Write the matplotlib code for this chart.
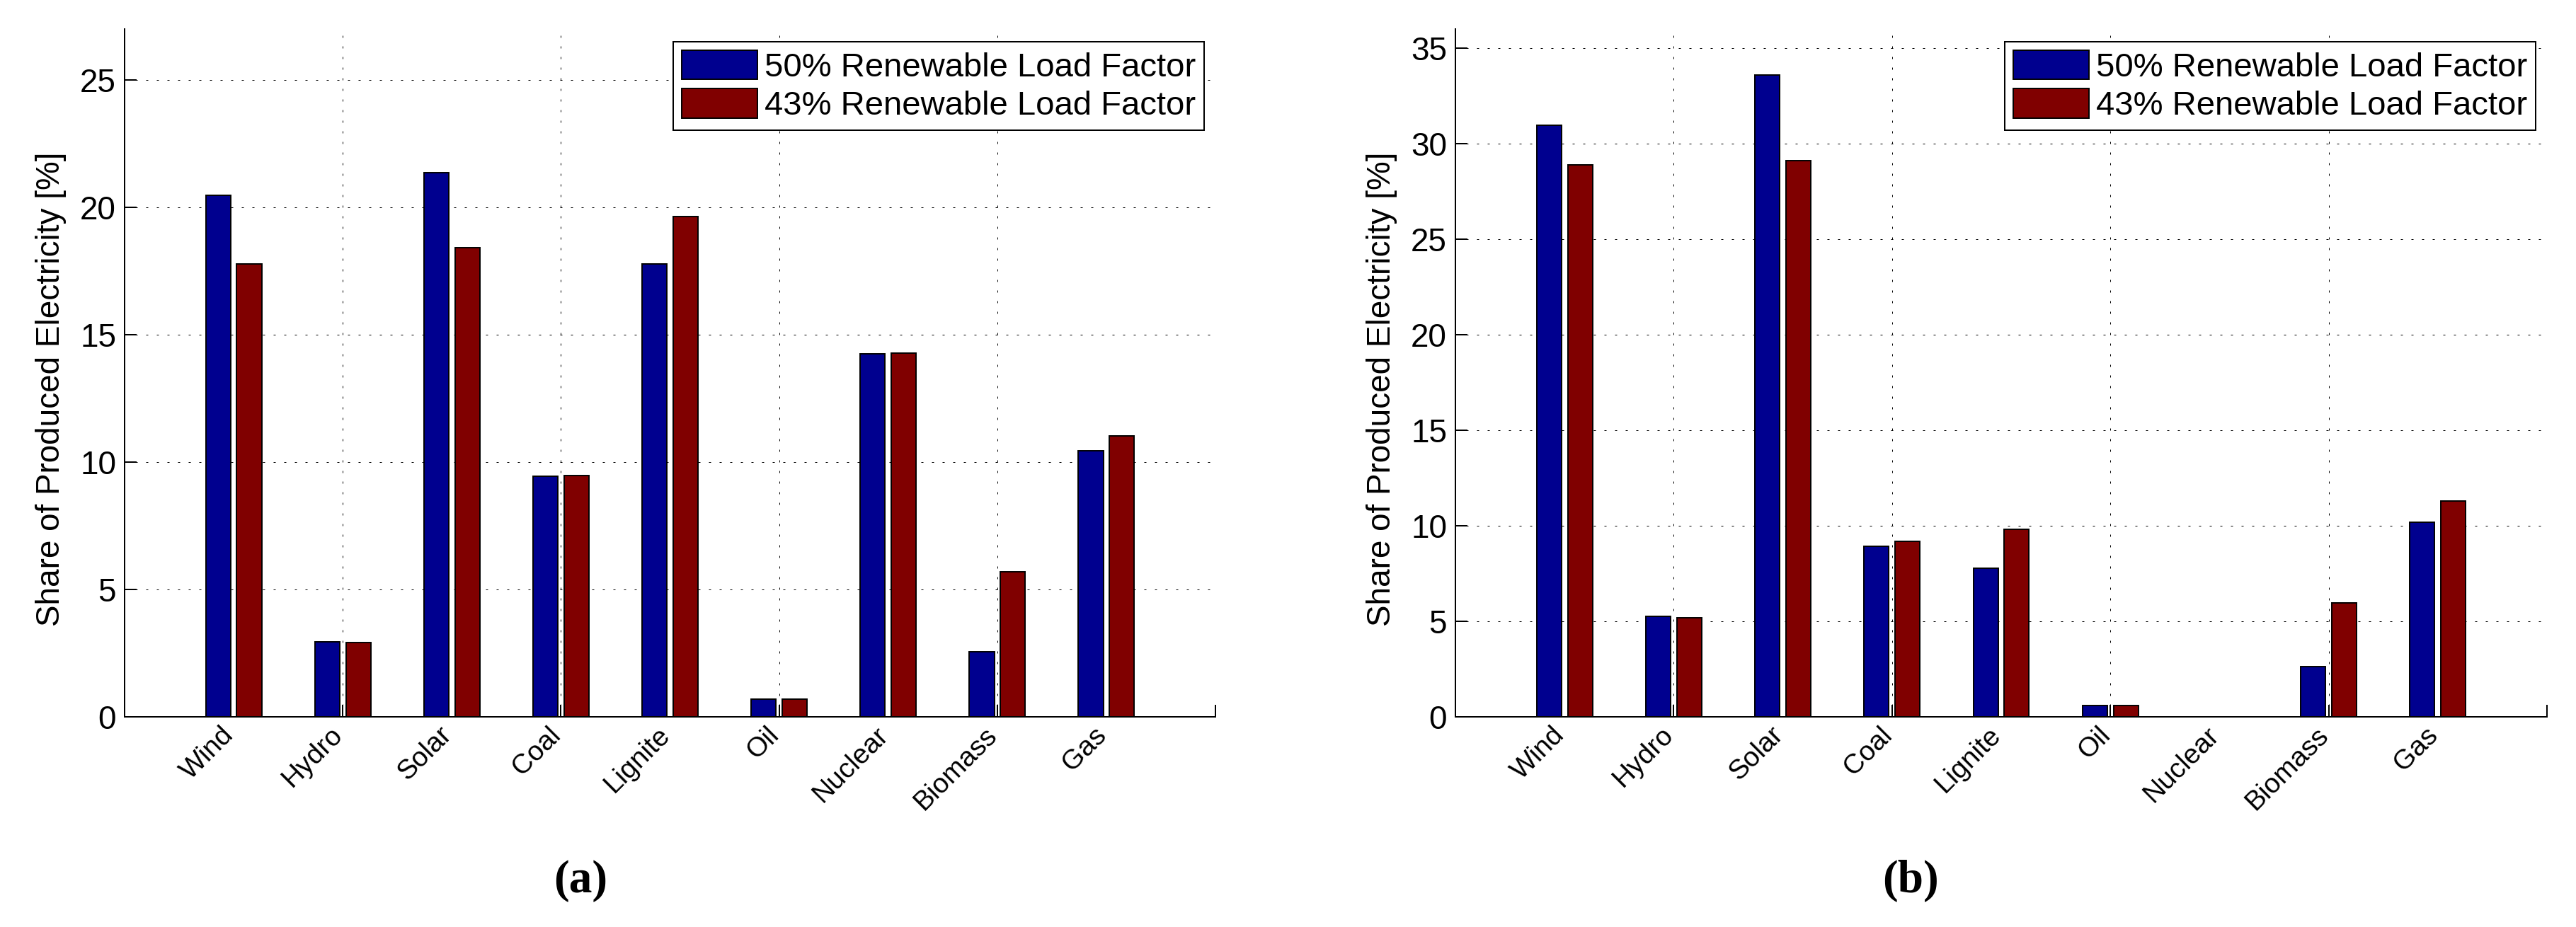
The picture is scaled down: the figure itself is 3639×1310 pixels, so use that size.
import matplotlib.pyplot as plt
from matplotlib.patches import Patch
from matplotlib.transforms import ScaledTranslation
import numpy as np

# energy sources on the x axis
sources = ["Wind", "Hydro", "Solar", "Coal", "Lignite", "Oil", "Nuclear", "Biomass", "Gas"]

# share of produced electricity [%], panel (a)
a_50 = [20.48, 2.97, 21.36, 9.44, 17.79, 0.72, 14.26, 2.57, 10.44]
a_43 = [17.79, 2.92, 18.41, 9.49, 19.64, 0.72, 14.29, 5.70, 11.04]

# share of produced electricity [%], panel (b)
b_50 = [30.98, 5.29, 33.58, 8.94, 7.80, 0.62, 0.0, 2.66, 10.21]
b_43 = [28.88, 5.20, 29.12, 9.19, 9.81, 0.62, 0.0, 5.97, 11.30]

series_names = ["50% Renewable Load Factor", "43% Renewable Load Factor"]
colors = ["#00008F", "#800000"]

plt.rcParams['font.family'] = ['Liberation Sans', 'DejaVu Sans']

fig = plt.figure(figsize=(36.39, 13.10), dpi=100)
ax_a = fig.add_axes([0.04837, 0.22634, 0.42347, 0.74237])
ax_b = fig.add_axes([0.56499, 0.22634, 0.42374, 0.74237])


def draw_panel(ax, s50, s43, ymax, yticks):
    x = np.arange(1, len(sources) + 1)
    w = 0.228
    ax.bar(x - 0.142, s50, w, color=colors[0], edgecolor='k', linewidth=1.4)
    ax.bar(x + 0.142, s43, w, color=colors[1], edgecolor='k', linewidth=1.4)

    ax.set_xlim(0, 10)
    ax.set_ylim(0, ymax)
    ax.set_yticks(yticks)
    # categories as major ticks (no marks), matlab-style ticks/grid at even positions as minor
    ax.xaxis.remove_overlapping_locs = False
    ax.set_xticks(x, labels=sources)
    ax.set_xticks(range(0, 11, 2), minor=True)

    ax.spines['top'].set_visible(False)
    ax.spines['right'].set_visible(False)
    for s in ['left', 'bottom']:
        ax.spines[s].set_linewidth(1.44)

    ax.tick_params(axis='y', which='major', direction='in', length=12.2,
                   width=1.44, labelsize=33, pad=8.6)
    ax.tick_params(axis='x', which='minor', direction='in', length=12.2, width=1.44)
    ax.tick_params(axis='x', which='major', length=0, labelsize=28, pad=5)
    for lab in ax.get_xticklabels():
        lab.set_rotation(45)
        lab.set_ha('right')
        lab.set_va('top')
        lab.set_transform(lab.get_transform() + ScaledTranslation(0.07, 0, fig.dpi_scale_trans))

    ax.set_axisbelow(True)
    gridstyle = dict(color='k', linewidth=0.72, linestyle=(0, (3, 12)))
    ax.yaxis.grid(True, which='major', **gridstyle)
    ax.xaxis.grid(True, which='minor', **gridstyle)

    ax.set_ylabel("Share of Produced Electricity [%]", fontsize=33)
    ax.yaxis.set_label_coords(-0.0532, 0.477)

    handles = [Patch(facecolor=colors[0], edgecolor='k', linewidth=1.4),
               Patch(facecolor=colors[1], edgecolor='k', linewidth=1.4)]
    leg = ax.legend(handles, series_names, loc='upper right',
                    bbox_to_anchor=(0.9896, 0.9815), borderaxespad=0,
                    fontsize=34, fancybox=False, framealpha=1, edgecolor='k',
                    handlelength=2.25, handleheight=0.98, handletextpad=0.22,
                    labelspacing=0.15, borderpad=0.25)
    leg.get_frame().set_linewidth(1.44)


draw_panel(ax_a, a_50, a_43, 27, range(0, 26, 5))
draw_panel(ax_b, b_50, b_43, 36, range(0, 36, 5))

fig.text(0.2254, 0.0496, "(a)", ha='center', va='center', fontsize=47,
         fontweight='bold', family=['Liberation Serif', 'DejaVu Serif'])
fig.text(0.7417, 0.0496, "(b)", ha='center', va='center', fontsize=47,
         fontweight='bold', family=['Liberation Serif', 'DejaVu Serif'])

fig.savefig("out.png", dpi=100)
